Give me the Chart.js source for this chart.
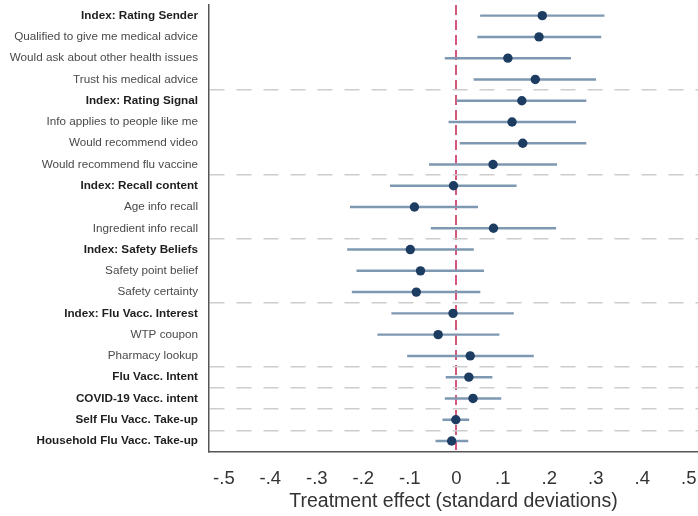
<!DOCTYPE html>
<html>
<head>
<meta charset="utf-8">
<title>Treatment effects</title>
<script src="https://cdn.jsdelivr.net/npm/chart.js@4/dist/chart.umd.min.js"></script>
<style>
  body { margin: 0; background: #fff; }
  canvas { display: block; }
</style>
</head>
<body>
<canvas id="chart" width="698" height="516"></canvas>
<script>
// Outcome rows, top to bottom
const outcomes = [
  "Index: Rating Sender",
  "Qualified to give me medical advice",
  "Would ask about other health issues",
  "Trust his medical advice",
  "Index: Rating Signal",
  "Info applies to people like me",
  "Would recommend video",
  "Would recommend flu vaccine",
  "Index: Recall content",
  "Age info recall",
  "Ingredient info recall",
  "Index: Safety Beliefs",
  "Safety point belief",
  "Safety certainty",
  "Index: Flu Vacc. Interest",
  "WTP coupon",
  "Pharmacy lookup",
  "Flu Vacc. Intent",
  "COVID-19 Vacc. intent",
  "Self Flu Vacc. Take-up",
  "Household Flu Vacc. Take-up",
];

// Point estimates and 95% CI bounds (standard deviations)
const estimates = [0.185, 0.178, 0.111, 0.170, 0.141, 0.120, 0.143, 0.079, -0.006, -0.090, 0.080,
  -0.099, -0.077, -0.086, -0.007, -0.039, 0.030, 0.027, 0.036, -0.001, -0.010];
const ciLow = [0.052, 0.046, -0.024, 0.038, 0.001, -0.016, 0.008, -0.058, -0.142, -0.228, -0.054,
  -0.234, -0.214, -0.224, -0.139, -0.169, -0.105, -0.022, -0.024, -0.029, -0.044];
const ciHigh = [0.318, 0.311, 0.246, 0.300, 0.279, 0.257, 0.279, 0.216, 0.129, 0.046, 0.214,
  0.037, 0.059, 0.051, 0.123, 0.092, 0.166, 0.077, 0.096, 0.027, 0.025];

// Rows printed in bold, and rows that start a new block (dashed rule above)
const boldRows = [0, 4, 8, 11, 14, 17, 18, 19, 20];
const blockStarts = [4, 8, 11, 14, 17, 18, 19, 20];

const xTicks = [-0.5, -0.4, -0.3, -0.2, -0.1, 0, 0.1, 0.2, 0.3, 0.4, 0.5];

const FONT = "'Liberation Sans', Arial, Helvetica, sans-serif";

function fmtTick(v) {
  const r = Math.round(v * 10) / 10;
  if (r === 0) return "0";
  return (r < 0 ? "-" : "") + Math.abs(r).toFixed(1).replace(/^0/, "");
}

const ctx = document.getElementById("chart").getContext("2d");

new Chart(ctx, {
  type: "bar",
  data: {
    labels: outcomes,
    datasets: [
      {
        // confidence intervals as thin floating bars
        label: "95% CI",
        data: outcomes.map((_, i) => [ciLow[i], ciHigh[i]]),
        backgroundColor: "#7f98b2",
        borderWidth: 0,
        barThickness: 1.8,
        order: 2,
      },
      {
        type: "line",
        label: "Estimate",
        indexAxis: "y",
        data: estimates,
        showLine: false,
        pointRadius: 4.7,
        pointBackgroundColor: "#1d3c62",
        pointBorderColor: "#1d3c62",
        pointBorderWidth: 0,
        order: 1,
      },
    ],
  },
  options: {
    indexAxis: "y",
    responsive: false,
    animation: false,
    layout: { autoPadding: false, padding: { top: 5, left: 0, right: 0, bottom: 0 } },
    plugins: {
      legend: { display: false },
      tooltip: { enabled: false },
    },
    scales: {
      x: {
        type: "linear",
        min: -0.532,
        max: 0.52,
        afterBuildTicks: (scale) => {
          scale.ticks = xTicks.map((v) => ({ value: v }));
        },
        afterFit: (scale) => {
          scale.height = 64.4;
          scale.paddingLeft = 0;
          scale.paddingRight = 0;
        },
        grid: {
          drawTicks: false,
          lineWidth: 2,
          // only the zero line is shown
          color: (c) => (c.tick && Math.abs(c.tick.value) < 1e-9 ? "#d4587a" : "rgba(0,0,0,0)"),
        },
        border: { display: true, color: "#555", width: 1.5, dash: [10, 5] },
        ticks: {
          autoSkip: false,
          maxRotation: 0,
          padding: 16,
          color: "#333",
          font: { family: FONT, size: 18.5 },
          callback: (v) => fmtTick(v),
        },
        title: {
          display: true,
          text: "Treatment effect (standard deviations)",
          color: "#333",
          font: { family: FONT, size: 19.5 },
          padding: { top: 0, bottom: 3 },
        },
      },
      y: {
        type: "category",
        offset: true,
        afterFit: (scale) => {
          scale.width = 209;
          scale.paddingTop = 0;
          scale.paddingBottom = 0;
        },
        grid: {
          offset: true,
          drawTicks: false,
          lineWidth: 1.5,
          color: (c) => (blockStarts.includes(c.index) ? "#cdcdcd" : "rgba(0,0,0,0)"),
        },
        border: { display: true, color: "#555", width: 1.5, dash: [15, 12] },
        ticks: {
          autoSkip: false,
          padding: 11,
          color: (c) => (boldRows.includes(c.index) ? "#1e1e1e" : "#4a4a4a"),
          font: (c) => ({
            family: FONT,
            size: 11.7,
            weight: boldRows.includes(c.index) ? "bold" : "normal",
          }),
        },
      },
    },
  },
});
</script>
</body>
</html>
